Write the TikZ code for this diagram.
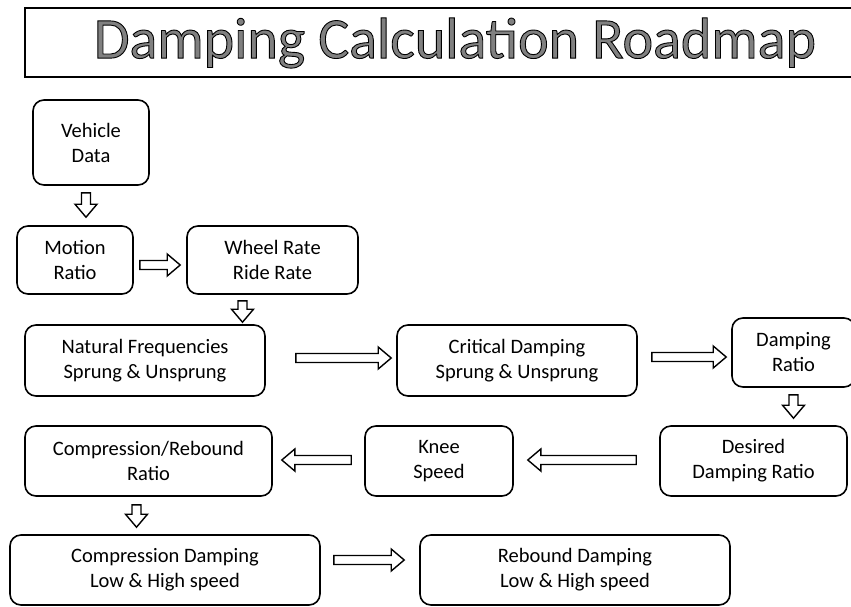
\documentclass[tikz,border=0pt]{standalone}
\usepackage{fontspec}
\setmainfont{Carlito}
\usetikzlibrary{calc}

\def\gapA{0}
\def\gapB{0}
\newcommand\outlined[1]{\special{pdf:literal direct 2 Tr 0.9 w 0 G}#1\special{pdf:literal direct 0 Tr}}
\tikzset{
  stepbox/.style={draw, line width=1.6pt, rounded corners=11pt, align=center,
    inner sep=0pt, font=\fontsize{20.5}{25}\selectfont},
  gaps/.code args={#1 and #2}{\def\gapA{#1}\def\gapB{#2}},
  hollow/.style={line width=1.4pt, line join=miter, gaps={#1}, to path={
    let \p1=($(\tikztotarget)-(\tikztostart)$), \n1={veclen(\x1,\y1)}, \n2={atan2(\y1,\x1)} in
    [shift={(\tikztostart)}, rotate=\n2]
    (\gapA,-4.5) -- (\n1-\gapB-13,-4.5) -- (\n1-\gapB-13,-11) -- (\n1-\gapB,0)
    -- (\n1-\gapB-13,11) -- (\n1-\gapB-13,4.5) -- (\gapA,4.5) -- cycle}},
}

\begin{document}
\begin{tikzpicture}[x=1pt,y=-1pt]
				\useasboundingbox (0,0) rectangle (851,606);
				\clip (0,0) rectangle (851,606);
				% title
				\node[draw, line width=1.8pt, minimum width=835, minimum height=69, inner sep=0pt] (title) at (442.5,42.5) {};
				\node[font=\fontsize{58}{64}\selectfont, text=black!50, inner sep=0pt] (titletext) at (455,43) {\outlined{Damping Calculation Roadmap}};
				% boxes
				\node[stepbox, minimum width=116, minimum height=85] (vehicle) at (91,142.5) {Vehicle\\Data};
				\node[stepbox, minimum width=116, minimum height=68] (motion) at (75,260) {Motion\\Ratio};
				\node[stepbox, minimum width=171, minimum height=68] (wheel) at (272.5,260) {Wheel Rate\\Ride Rate};
				\node[stepbox, minimum width=240, minimum height=71] (natfreq) at (145,360.5) {Natural Frequencies\\Sprung \& Unsprung};
				\node[stepbox, minimum width=240, minimum height=71] (critical) at (517,360.5) {Critical Damping\\Sprung \& Unsprung};
				\node[stepbox, minimum width=123, minimum height=69] (dratio) at (793.5,352.5) {Damping\\Ratio};
				\node[stepbox, minimum width=187, minimum height=70] (desired) at (753.5,461) {Desired\\Damping Ratio};
				\node[stepbox, minimum width=148, minimum height=70] (knee) at (439,461) {Knee\\Speed};
				\node[stepbox, minimum width=247, minimum height=70] (cratio) at (148.5,461) {Compression/Rebound\\Ratio};
				\node[stepbox, minimum width=310, minimum height=70] (compdamp) at (165,570) {Compression Damping\\Low \& High speed};
				\node[stepbox, minimum width=310, minimum height=70] (rebdamp) at (575,570) {Rebound Damping\\Low \& High speed};
				% arrows
				\draw[hollow={7 and 8}] ([xshift=-5]vehicle.south) to ([xshift=-5]vehicle.south |- motion.north);
				\draw[hollow={6 and 6}] ([yshift=-5]motion.east) to ([yshift=-5]motion.east -| wheel.west);
				\draw[hollow={6 and 2}] ([xshift=-30]wheel.south) to ([xshift=-30]wheel.south |- natfreq.north);
				\draw[hollow={30 and 5}] ([yshift=2.5]natfreq.east) to ([yshift=2.5]natfreq.east -| critical.west);
				\draw[hollow={14 and 5}] ([yshift=3.5]critical.east) to ([yshift=3.5]critical.east -| dratio.west);
				\draw[hollow={7 and 7}] (dratio.south) to (dratio.south |- desired.north);
				\draw[hollow={23 and 14}] ([yshift=1]desired.west) to ([yshift=1]desired.west -| knee.east);
				\draw[hollow={13 and 9}] ([yshift=1]knee.west) to ([yshift=1]knee.west -| cratio.east);
				\draw[hollow={8 and 7}] ([xshift=-12]cratio.south) to ([xshift=-12]cratio.south |- compdamp.north);
				\draw[hollow={13 and 15}] ([yshift=10]compdamp.east) to ([yshift=10]compdamp.east -| rebdamp.west);
\end{tikzpicture}
\end{document}
